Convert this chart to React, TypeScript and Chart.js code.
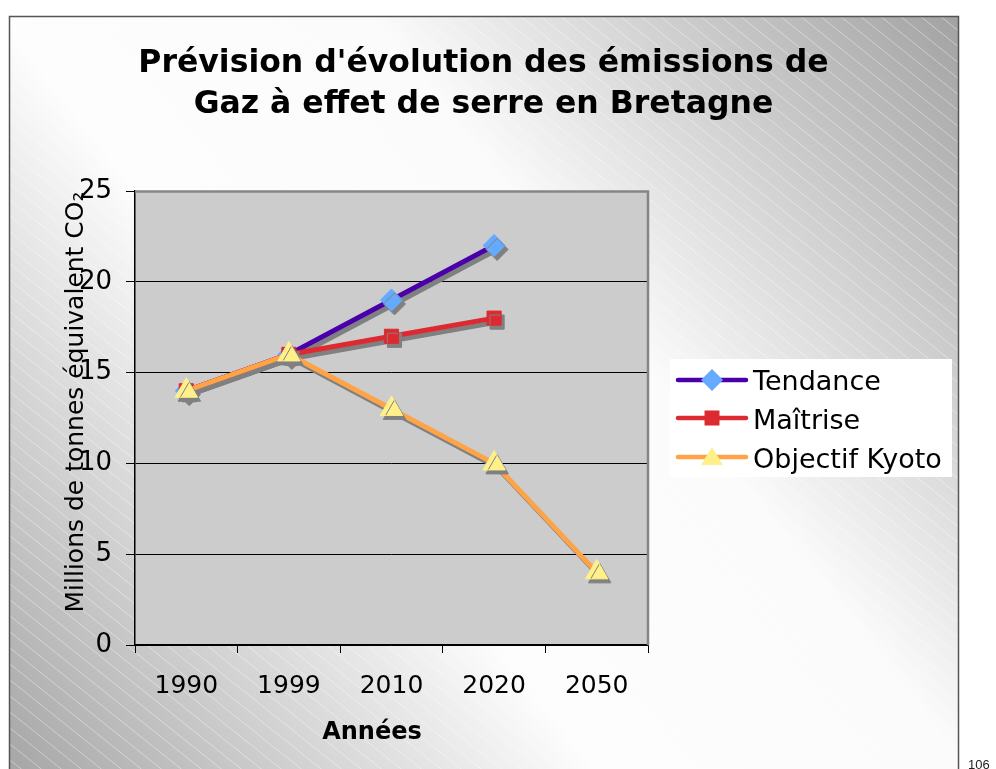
import React, { useEffect, useRef } from 'react';
import { Chart, registerables } from 'chart.js';

Chart.register(...registerables);

// ---------- data ----------
const years: string[] = ['1990', '1999', '2010', '2020', '2050'];
const tendance: (number | null)[] = [14, 16, 19, 22, null];
const maitrise: (number | null)[] = [14, 16, 17, 18, null];
const kyoto: (number | null)[] = [14, 16, 13, 10, 4];
const yTicks: number[] = [0, 5, 10, 15, 20, 25];
const seriesNames: string[] = ['Tendance', 'Maîtrise', 'Objectif Kyoto'];
const titleLines: string[] = ["Prévision d'évolution des émissions de", 'Gaz à effet de serre en Bretagne'];
const xTitle = 'Années';
const yTitle = 'Millions de tonnes équivalent CO₂';
const pageNumber = '106';

// ---------- styles ----------
const FONT = '"DejaVu Sans", Verdana, sans-serif';
const lineColors = ['#4a00a8', '#dd2a30', '#ffa347'];
const markerColors = ['#66aaff', '#dd2a30', '#fff08a'];
const markerStyles = ['rectRot', 'rect', 'triangle'];
const markerRadius = [11, 10, 13];

const FRAME = { x: 9, y: 16, w: 949, h: 800 };

const backgroundPlugin = {
  id: 'bgFrame',
  beforeDraw(chart: any) {
    const ctx = chart.ctx as CanvasRenderingContext2D;
    const { width, height } = chart;
    ctx.save();
    ctx.fillStyle = '#ffffff';
    ctx.fillRect(0, 0, width, height);
    ctx.beginPath();
    ctx.rect(FRAME.x, FRAME.y, FRAME.w, FRAME.h);
    ctx.clip();
    const g = ctx.createLinearGradient(958, 16, 9, 769);
    g.addColorStop(0, '#a2a2a2');
    g.addColorStop(0.38, '#fbfbfb');
    g.addColorStop(0.62, '#fdfdfd');
    g.addColorStop(1, '#a6a6a6');
    ctx.fillStyle = g;
    ctx.fillRect(FRAME.x, FRAME.y, FRAME.w, FRAME.h);
    ctx.strokeStyle = 'rgba(255,255,255,0.4)';
    ctx.lineWidth = 1;
    const slope = 0.8;
    for (let x0 = -1200; x0 < 1000; x0 += 20) {
      ctx.beginPath();
      ctx.moveTo(x0, 0);
      ctx.lineTo(x0 + 800 / slope, 800);
      ctx.stroke();
    }
    ctx.restore();
    ctx.save();
    ctx.strokeStyle = '#555';
    ctx.lineWidth = 1.5;
    ctx.strokeRect(FRAME.x + 0.5, FRAME.y + 0.5, FRAME.w, FRAME.h);
    ctx.restore();
    const a = chart.chartArea;
    ctx.save();
    ctx.fillStyle = '#cccccc';
    ctx.fillRect(a.left, a.top, a.right - a.left, a.bottom - a.top);
    ctx.restore();
  },
  beforeDatasetsDraw(chart: any) {
    const ctx = chart.ctx as CanvasRenderingContext2D;
    const a = chart.chartArea;
    ctx.save();
    ctx.strokeStyle = '#858585';
    ctx.lineWidth = 2.5;
    ctx.beginPath();
    ctx.moveTo(a.left, a.top + 0.5);
    ctx.lineTo(a.right, a.top + 0.5);
    ctx.lineTo(a.right, a.bottom);
    ctx.stroke();
    ctx.restore();
  },
  beforeDatasetDraw(chart: any) {
    const ctx = chart.ctx as CanvasRenderingContext2D;
    ctx.save();
    ctx.shadowColor = '#808080';
    ctx.shadowOffsetX = 3;
    ctx.shadowOffsetY = 4;
    ctx.shadowBlur = 0;
  },
  afterDatasetDraw(chart: any) {
    chart.ctx.restore();
  },
  afterDraw(chart: any) {
    const ctx = chart.ctx as CanvasRenderingContext2D;
    ctx.save();
    ctx.fillStyle = '#000';
    ctx.textAlign = 'center';
    ctx.textBaseline = 'alphabetic';
    ctx.font = `bold 31.5px ${FONT}`;
    ctx.fillText(titleLines[0], 483.5, 72);
    ctx.fillText(titleLines[1], 483.5, 113);
    ctx.font = `bold 24px ${FONT}`;
    ctx.fillText(xTitle, 372, 739);
    ctx.save();
    ctx.translate(83, 402);
    ctx.rotate(-Math.PI / 2);
    ctx.font = `25px ${FONT}`;
    ctx.fillText(yTitle, 0, 0);
    ctx.restore();
    // legend
    ctx.fillStyle = '#ffffff';
    ctx.fillRect(670, 359, 282, 118);
    const rows = [380, 418, 457];
    const baselines = [390, 429, 468];
    for (let i = 0; i < 3; i++) {
      const y = rows[i];
      ctx.strokeStyle = lineColors[i];
      ctx.lineWidth = 4.5;
      ctx.lineCap = 'round';
      ctx.beginPath();
      ctx.moveTo(678, y);
      ctx.lineTo(746, y);
      ctx.stroke();
      ctx.fillStyle = markerColors[i];
      const cx = 712;
      ctx.beginPath();
      if (i === 0) {
        ctx.moveTo(cx, y - 11);
        ctx.lineTo(cx + 11, y);
        ctx.lineTo(cx, y + 11);
        ctx.lineTo(cx - 11, y);
      } else if (i === 1) {
        ctx.rect(cx - 7.5, y - 7.5, 15, 15);
      } else {
        ctx.moveTo(cx, y - 10);
        ctx.lineTo(cx + 11, y + 8);
        ctx.lineTo(cx - 11, y + 8);
      }
      ctx.closePath();
      ctx.fill();
      ctx.fillStyle = '#000';
      ctx.textAlign = 'left';
      ctx.font = `27px ${FONT}`;
      ctx.fillText(seriesNames[i], 753, baselines[i]);
    }
    ctx.font = '13px "Liberation Sans", Arial, sans-serif';
    ctx.fillStyle = '#222';
    ctx.textAlign = 'left';
    ctx.fillText(pageNumber, 968, 769);
    ctx.restore();
  },
};

export default function App() {
  const ref = useRef<HTMLCanvasElement | null>(null);

  useEffect(() => {
    if (!ref.current) return;
    const seriesData = [tendance, maitrise, kyoto];
    const chart = new Chart(ref.current, {
      type: 'line',
      data: {
        labels: years,
        datasets: seriesData.map((d, i) => ({
          label: seriesNames[i],
          data: d,
          borderColor: lineColors[i],
          backgroundColor: markerColors[i],
          borderWidth: 5,
          tension: 0,
          fill: false,
          pointStyle: markerStyles[i] as any,
          pointRadius: markerRadius[i],
          pointBackgroundColor: markerColors[i],
          pointBorderColor: markerColors[i],
          pointBorderWidth: 1,
          order: 2 - i,
          spanGaps: false,
          clip: 20,
        })),
      },
      options: {
        responsive: false,
        animation: false,
        devicePixelRatio: 1,
        layout: { padding: { left: 0, top: 191, right: 348, bottom: 0 } },
        plugins: {
          legend: { display: false },
          title: { display: false },
          tooltip: { enabled: false },
        },
        scales: {
          x: {
            type: 'category',
            offset: true,
            grid: {
              offset: true,
              drawOnChartArea: false,
              tickLength: 8,
              color: '#000',
              tickColor: '#000',
              lineWidth: 1,
            },
            border: { color: '#000', width: 1.5 },
            ticks: {
              font: { family: FONT, size: 25 },
              color: '#000',
              padding: 18,
              maxRotation: 0,
              autoSkip: false,
            },
            afterFit: (s: any) => {
              s.height = 124;
            },
          },
          y: {
            min: yTicks[0],
            max: yTicks[yTicks.length - 1],
            ticks: {
              stepSize: yTicks[1] - yTicks[0],
              font: { family: FONT, size: 26 },
              color: '#000',
              padding: 14,
            },
            grid: {
              tickLength: 9,
              color: (c: any) => (c.tick && c.tick.value === yTicks[yTicks.length - 1] ? 'rgba(0,0,0,0)' : '#000'),
              tickColor: '#000',
              lineWidth: 1,
            },
            border: { color: '#000', width: 1.5 },
            afterFit: (s: any) => {
              s.width = 135;
            },
          },
        },
      },
      plugins: [backgroundPlugin],
    });
    return () => chart.destroy();
  }, []);

  return (
    <div style={{ position: 'fixed', left: 0, top: 0, width: 996, height: 769 }}>
      <canvas ref={ref} width={996} height={769} style={{ display: 'block', width: 996, height: 769 }} />
    </div>
  );
}
